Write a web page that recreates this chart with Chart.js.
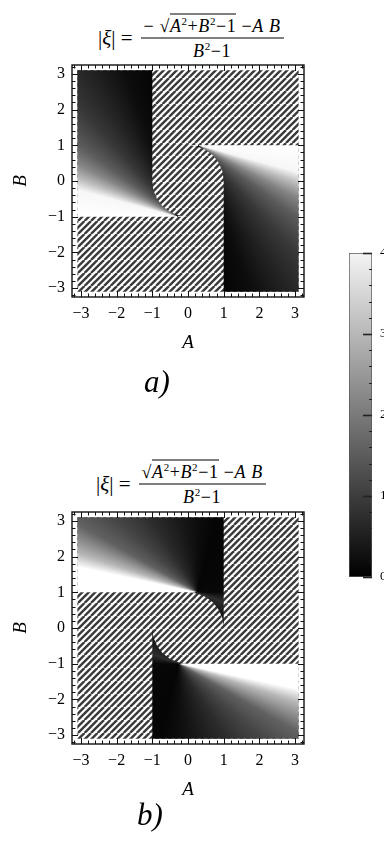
<!DOCTYPE html>
<html>
<head>
<meta charset="utf-8">
<script src="https://cdn.jsdelivr.net/npm/chart.js@4.4.1/dist/chart.umd.min.js"></script>
<style>
body { margin: 0; background: #fff; width: 384px; height: 848px; overflow: hidden; position: relative; }
canvas { position: absolute; }
.eq { position: absolute; display: flex; align-items: center; transform: translateY(-50%); font-family: 'Liberation Serif', serif; color: #000; white-space: nowrap; }
.eq .lhs { font-size: 21px; margin-right: 8px; }
.frac { display: flex; flex-direction: column; align-items: center; font-size: 18px; line-height: 1; letter-spacing: 0.6px; }
.num { border-bottom: 1px solid #000; padding: 0 3px 3px; }
.den { padding-top: 3px; }
.ov { border-top: 1px solid #000; padding-top: 1px; }
.frac sup { font-size: 11px; vertical-align: 0; position: relative; top: -7px; }
.tag { position: absolute; transform: translate(-50%, -50%); font: italic 31px 'Liberation Serif', serif; color: #000; }
</style>
</head>
<body>

<div class="eq" style="left:98px; top:38px">
  <span class="lhs">|<i>ξ</i>| =</span>
  <span class="frac">
    <span class="num">− √<span class="ov"><i>A</i><sup>2</sup>+<i>B</i><sup>2</sup>−1</span> −<i>A</i> <i>B</i></span>
    <span class="den"><i>B</i><sup>2</sup>−1</span>
  </span>
</div>
<canvas id="plotA" style="left:0; top:0" width="330" height="400"></canvas>
<div class="tag" style="left:157px; top:382px">a)</div>

<canvas id="scale" style="left:330px; top:200px" width="54" height="420"></canvas>

<div class="eq" style="left:96px; top:484px">
  <span class="lhs">|<i>ξ</i>| =</span>
  <span class="frac">
    <span class="num">√<span class="ov"><i>A</i><sup>2</sup>+<i>B</i><sup>2</sup>−1</span> −<i>A</i> <i>B</i></span>
    <span class="den"><i>B</i><sup>2</sup>−1</span>
  </span>
</div>
<canvas id="plotB" style="left:0; top:447px" width="330" height="400"></canvas>
<div class="tag" style="left:150px; top:815px">b)</div>

<script>
// frame ticks shared by both density plots
const axisTicks = [-3, -2, -1, 0, 1, 2, 3];
const axisTickLabels = ['−3', '−2', '−1', '0', '1', '2', '3'];
const axisMin = -3.25, axisMax = 3.25;
const minorStep = 0.2;

// plotted domain, hatched where no admissible value
const domain = [{x: -3.1, y: -3.1}, {x: 3.1, y: -3.1}, {x: 3.1, y: 3.1}, {x: -3.1, y: 3.1}];

// a) shaded regions (boundary read off the picture)
const aUpper = [{x: -3.1, y: 3.1}, {x: -1, y: 3.1}, {x: -1, y: 0}, {x: -0.97, y: -0.26}, {x: -0.87, y: -0.5},
  {x: -0.71, y: -0.71}, {x: -0.5, y: -0.87}, {x: -0.26, y: -0.97}, {x: 0, y: -1}, {x: -3.1, y: -1}];
const aLower = [{x: 3.1, y: -3.1}, {x: 1, y: -3.1}, {x: 1, y: 0}, {x: 0.97, y: 0.26}, {x: 0.87, y: 0.5},
  {x: 0.71, y: 0.71}, {x: 0.5, y: 0.87}, {x: 0.26, y: 0.97}, {x: 0, y: 1}, {x: 3.1, y: 1}];
const aUpperFocus = {x: -0.3, y: -1};
const aLowerFocus = {x: 0.3, y: 1};

// b) shaded regions
const bUpper = [{x: -3.1, y: 3.1}, {x: 1, y: 3.1}, {x: 1, y: 0}, {x: 0.97, y: 0.26}, {x: 0.87, y: 0.5},
  {x: 0.71, y: 0.71}, {x: 0.5, y: 0.87}, {x: 0.26, y: 0.97}, {x: 0, y: 1}, {x: -3.1, y: 1}];
const bLower = [{x: 3.1, y: -3.1}, {x: -1, y: -3.1}, {x: -1, y: 0}, {x: -0.97, y: -0.26}, {x: -0.87, y: -0.5},
  {x: -0.71, y: -0.71}, {x: -0.5, y: -0.87}, {x: -0.26, y: -0.97}, {x: 0, y: -1}, {x: 3.1, y: -1}];
const bUpperFocus = {x: 0.25, y: 1};
const bLowerFocus = {x: -0.25, y: -1};

// grey level of |xi| (0 black .. 1 white) by direction seen from the focus, degrees
const shadeA = [[0, 1], [15, 0.97], [21, 0.74], [28, 0.52], [36, 0.36], [48, 0.22], [58, 0.14], [70, 0.05],
  [82, 0.01], [150, 0], [170, 1], [360, 1]];
const shadeB = [[0, 1], [12, 1], [18, 0.72], [30, 0.38], [42, 0.27], [58, 0.17], [75, 0.1], [90, 0.05],
  [105, 0.02], [180, 0.03], [200, 0.18], [230, 0.05], [350, 0.08], [360, 1]];

// colour bar
const barRange = [0, 4];
const barTicks = [0, 1, 2, 3, 4];
const barTickLabels = ['0', '1', '2', '3', '4'];

const serif = "'Liberation Serif', 'DejaVu Serif', serif";

function grey(v) {
  const c = Math.round(255 * v);
  return `rgb(${c},${c},${c})`;
}

function fan(focus, start, stops) {
  return (context) => {
    const chart = context.chart;
    if (!chart.chartArea) return 'rgba(0,0,0,0)';
    const cx = chart.scales.x.getPixelForValue(focus.x);
    const cy = chart.scales.y.getPixelForValue(focus.y);
    const g = chart.ctx.createConicGradient(start, cx, cy);
    stops.forEach(([deg, v]) => g.addColorStop(deg / 360, grey(v)));
    return g;
  };
}

function hatch() {
  const c = document.createElement('canvas');
  c.width = c.height = 13;
  const g = c.getContext('2d');
  g.fillStyle = '#fff';
  g.fillRect(0, 0, 13, 13);
  g.strokeStyle = '#3a3a3a';
  g.lineWidth = 2.4;
  for (const o of [-13, -6.5, 0, 6.5, 13]) {
    g.beginPath();
    g.moveTo(o, 13);
    g.lineTo(o + 13, 0);
    g.stroke();
  }
  return g.createPattern(c, 'repeat');
}
const hatchFill = hatch();

function region(points, color, order) {
  return {
    data: points, showLine: true, fill: 'shape', backgroundColor: color,
    borderWidth: 0, borderColor: 'rgba(0,0,0,0)', pointRadius: 0, order: order
  };
}

const frameTicks = {
  id: 'frameTicks',
  afterDatasetsDraw(chart) {
    const {ctx, chartArea: a, scales: {x, y}} = chart;
    ctx.save();
    ctx.strokeStyle = '#111';
    ctx.lineWidth = 1;
    ctx.beginPath();
    for (let i = Math.ceil(axisMin / minorStep); i <= Math.floor(axisMax / minorStep); i++) {
      const v = i * minorStep;
      const major = axisTicks.some(t => Math.abs(t - v) < 1e-6);
      const len = major ? 6 : 3.5;
      const px = Math.round(x.getPixelForValue(v)) + 0.5;
      const py = Math.round(y.getPixelForValue(v)) + 0.5;
      ctx.moveTo(px, a.bottom); ctx.lineTo(px, a.bottom - len);
      ctx.moveTo(px, a.top); ctx.lineTo(px, a.top + len);
      ctx.moveTo(a.left, py); ctx.lineTo(a.left + len, py);
      ctx.moveTo(a.right, py); ctx.lineTo(a.right - len, py);
    }
    ctx.stroke();
    ctx.lineWidth = 1.4;
    ctx.strokeRect(a.left, a.top, a.right - a.left, a.bottom - a.top);
    ctx.restore();
  }
};

function axis(fit, titleText, titlePadding) {
  return {
    type: 'linear',
    min: axisMin,
    max: axisMax,
    afterBuildTicks: s => { s.ticks = axisTicks.map(v => ({value: v})); },
    afterFit: fit,
    grid: {display: false, drawTicks: false},
    border: {display: false},
    ticks: {
      padding: 7, autoSkip: false, maxRotation: 0, color: '#000',
      font: {family: serif, size: 16},
      callback: v => axisTickLabels[axisTicks.indexOf(v)]
    },
    title: {
      display: true, text: titleText, color: '#000',
      font: {family: serif, size: 19, style: 'italic'},
      padding: titlePadding
    }
  };
}

function densityPlot(id, upper, upperFocus, lower, lowerFocus, stops) {
  return new Chart(document.getElementById(id), {
    type: 'scatter',
    data: {
      datasets: [
        region(upper, fan(upperFocus, Math.PI, stops), 1),
        region(lower, fan(lowerFocus, 0, stops), 1),
        region(domain, hatchFill, 2)
      ]
    },
    options: {
      responsive: false,
      animation: false,
      events: [],
      layout: {padding: {left: 0, top: 65, right: 26, bottom: 0}},
      plugins: {legend: {display: false}, tooltip: {enabled: false}},
      scales: {
        x: axis(s => { s.height = 103; }, 'A', {top: 0, bottom: 46}),
        y: axis(s => { s.width = 72; }, 'B', {top: 10, bottom: 0})
      }
    },
    plugins: [frameTicks]
  });
}

densityPlot('plotA', aUpper, aUpperFocus, aLower, aLowerFocus, shadeA);
densityPlot('plotB', bUpper, bUpperFocus, bLower, bLowerFocus, shadeB);

const barTickMarks = {
  id: 'barTickMarks',
  afterDatasetsDraw(chart) {
    const {ctx, chartArea: a, scales: {y}} = chart;
    ctx.save();
    ctx.strokeStyle = '#222';
    for (let i = 0; i <= Math.round((barRange[1] - barRange[0]) / minorStep); i++) {
      const v = barRange[0] + i * minorStep;
      const major = barTicks.some(t => Math.abs(t - v) < 1e-6);
      const py = Math.round(y.getPixelForValue(v)) + 0.5;
      ctx.lineWidth = major ? 1.6 : 1;
      ctx.beginPath();
      ctx.moveTo(a.right, py);
      ctx.lineTo(a.right - (major ? 9 : 3), py);
      ctx.stroke();
    }
    ctx.restore();
  }
};

new Chart(document.getElementById('scale'), {
  type: 'bar',
  data: {
    labels: [''],
    datasets: [{
      data: [[barRange[0], barRange[1]]],
      backgroundColor: (context) => {
        const chart = context.chart;
        if (!chart.chartArea) return '#888';
        const y = chart.scales.y;
        const g = chart.ctx.createLinearGradient(0, y.getPixelForValue(barRange[1]), 0, y.getPixelForValue(barRange[0]));
        g.addColorStop(0, '#f4f4f4');
        g.addColorStop(1, '#000');
        return g;
      },
      borderColor: '#555',
      borderWidth: 1,
      borderSkipped: false,
      barPercentage: 1,
      categoryPercentage: 1
    }]
  },
  options: {
    responsive: false,
    animation: false,
    events: [],
    layout: {padding: {left: 19, top: 53, right: 0, bottom: 43}},
    plugins: {legend: {display: false}, tooltip: {enabled: false}},
    scales: {
      x: {display: false},
      y: {
        position: 'right',
        min: barRange[0],
        max: barRange[1],
        afterBuildTicks: s => { s.ticks = barTicks.map(v => ({value: v})); },
        afterFit: s => { s.width = 12; },
        grid: {display: false, drawTicks: false},
        border: {display: false},
        ticks: {
          padding: 8, color: '#000', font: {family: serif, size: 13},
          callback: v => barTickLabels[barTicks.indexOf(v)]
        }
      }
    }
  },
  plugins: [barTickMarks]
});
</script>
</body>
</html>
